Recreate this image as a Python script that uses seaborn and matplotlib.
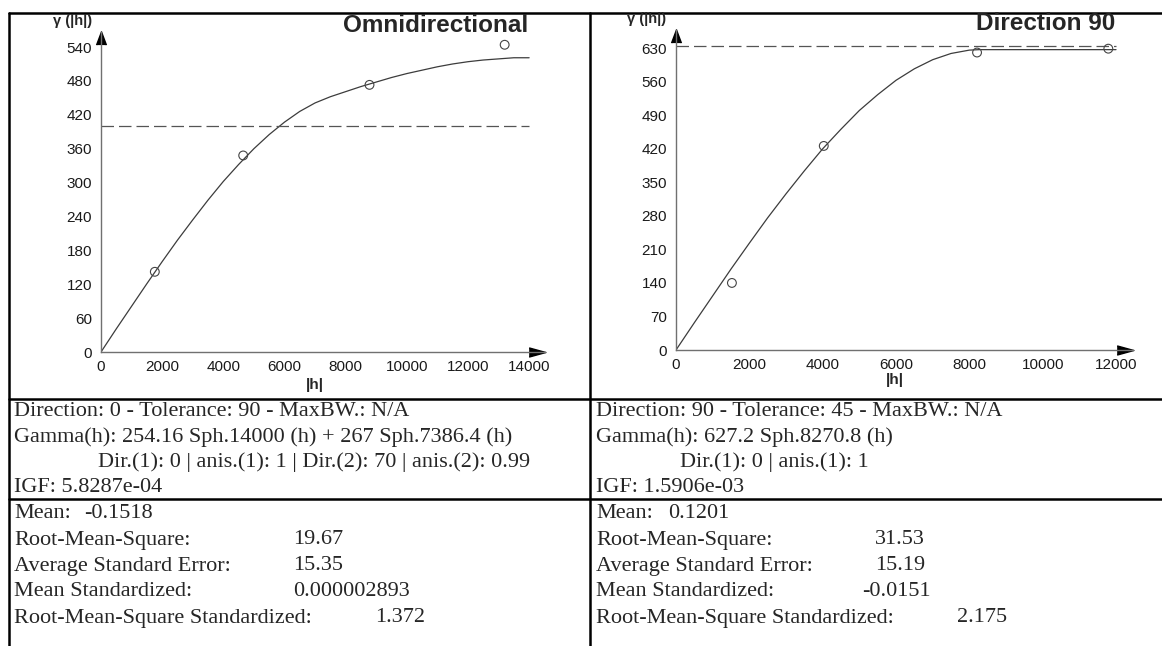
import matplotlib
matplotlib.use("Agg")
import matplotlib.pyplot as plt
from matplotlib.lines import Line2D
from matplotlib.transforms import offset_copy
import seaborn as sns

W, H = 1162, 646

# ---- omnidirectional variogram ----
omni_lag = [1760, 4650, 8780, 13200]
omni_gamma = [142, 348, 473, 544]
omni_model_h = [0, 500, 1000, 1500, 2000, 2500, 3000, 3500, 4000, 4500, 5000, 5500, 6000,
                6500, 7000, 7500, 8000, 8500, 9000, 9500, 10000, 10500, 11000, 11500,
                12000, 12500, 13000, 13500, 14000]
omni_model_g = [0, 41, 81, 121, 160, 198, 234, 269, 302, 332, 360, 385, 407,
                426, 441, 452, 461, 470, 478, 486, 493, 499, 505, 510,
                514, 517, 519, 521, 521]
omni_sill = 400
omni_xticks = [0, 2000, 4000, 6000, 8000, 10000, 12000, 14000]
omni_yticks = [0, 60, 120, 180, 240, 300, 360, 420, 480, 540]

# ---- direction 90 variogram ----
dir90_lag = [1525, 4030, 8210, 11790]
dir90_gamma = [140, 426, 621, 629]
dir90_model_h = [0, 500, 1000, 1500, 2000, 2500, 3000, 3500, 4000, 4500, 5000, 5500,
                 6000, 6500, 7000, 7500, 8000, 8271, 12000]
dir90_model_g = [0, 57, 113, 169, 223, 276, 326, 374, 420, 461, 500, 533,
                 563, 587, 606, 619, 626, 627, 627]
dir90_sill = 635
dir90_xticks = [0, 2000, 4000, 6000, 8000, 10000, 12000]
dir90_yticks = [0, 70, 140, 210, 280, 350, 420, 490, 560, 630]

# ---- text under the plots ----
omni_info = ["Direction: 0 - Tolerance: 90 - MaxBW.: N/A",
             "Gamma(h): 254.16 Sph.14000 (h) + 267 Sph.7386.4 (h)",
             "Dir.(1): 0 | anis.(1): 1 | Dir.(2): 70 | anis.(2): 0.99",
             "IGF: 5.8287e-04"]
dir90_info = ["Direction: 90 - Tolerance: 45 - MaxBW.: N/A",
              "Gamma(h): 627.2 Sph.8270.8 (h)",
              "Dir.(1): 0 | anis.(1): 1",
              "IGF: 1.5906e-03"]
stat_names = ["Mean:", "Root-Mean-Square:", "Average Standard Error:",
              "Mean Standardized:", "Root-Mean-Square Standardized:"]
omni_stats = ["-0.1518", "19.67", "15.35", "0.000002893", "1.372"]
dir90_stats = ["0.1201", "31.53", "15.19", "-0.0151", "2.175"]

sns.set_style("white")
plt.rcParams["font.family"] = ["Liberation Sans", "DejaVu Sans"]

fig = plt.figure(figsize=(W / 100, H / 100), dpi=100)


def px(x, y):
    return x / W, 1 - y / H


def variogram(rect, lag, gam, mh, mg, sill, xt, yt, xmax, ymax, xlab_pos):
    l, t, r, b = rect
    ax = fig.add_axes([l / W, 1 - b / H, (r - l) / W, (b - t) / H])
    sns.lineplot(x=mh, y=mg, ax=ax, color="#3c3c3c", lw=0.9)
    sns.lineplot(x=[0, mh[-1]], y=[sill, sill], ax=ax, color="#555555", lw=0.9,
                 linestyle=(0, (10, 4)))
    sns.scatterplot(x=lag, y=gam, ax=ax, marker="o", s=40, facecolor="none",
                    edgecolor="#444444", linewidth=0.8, zorder=5)
    ax.set_xlim(0, xmax)
    ax.set_ylim(0, ymax)
    ax.set_xticks(xt)
    ax.set_yticks(yt)
    ax.set_xticklabels([str(v) for v in xt])
    ax.set_yticklabels([str(v) for v in yt])
    for s in ["top", "right"]:
        ax.spines[s].set_visible(False)
    for s in ["left", "bottom"]:
        ax.spines[s].set_color("#707070")
        ax.spines[s].set_linewidth(1.0)
    ax.tick_params(direction="in", length=5, width=0.8, color="#808080",
                   labelsize=11, labelcolor="#1a1a1a")
    ax.tick_params(axis="y", pad=6.5)
    ax.tick_params(axis="x", pad=5.5)
    ax.set_xlabel("|h|", fontsize=11, fontweight="bold")
    ax.xaxis.set_label_coords(*xlab_pos)
    ax.set_ylabel("")
    # arrow heads on the axes
    tr = offset_copy(ax.transAxes, fig=fig, x=-8, y=0, units="dots")
    ax.plot([1], [0], transform=tr, marker=[(-1, -0.55), (1, 0), (-1, 0.55)],
            ms=12, color="black", clip_on=False)
    tr = offset_copy(ax.transAxes, fig=fig, x=0, y=-6, units="dots")
    ax.plot([0], [1], transform=tr, marker=[(-0.75, -1), (0, 1), (0.75, -1)],
            ms=9.5, color="black", clip_on=False)
    return ax


variogram((101, 32, 545, 352), omni_lag, omni_gamma, omni_model_h, omni_model_g,
          omni_sill, omni_xticks, omni_yticks, 14519, 566.6, (0.482, -0.08))
variogram((676, 30, 1133, 350), dir90_lag, dir90_gamma, dir90_model_h, dir90_model_g,
          dir90_sill, dir90_xticks, dir90_yticks, 12463, 668, (0.479, -0.072))

# axis names and titles
fig.text(*px(92, 21), "γ (|h|)", ha="right", va="center", fontsize=10.5, fontweight="bold")
fig.text(*px(666, 19), "γ (|h|)", ha="right", va="center", fontsize=10.5, fontweight="bold")
fig.text(*px(528, 25), "Omnidirectional", ha="right", va="center", fontsize=17.5,
         fontweight="bold")
fig.text(*px(1115, 24), "Direction 90", ha="right", va="center", fontsize=17.5,
         fontweight="bold")

# table borders
def hline(y, x0=9, x1=W):
    fig.add_artist(Line2D([x0 / W, x1 / W], [1 - y / H, 1 - y / H], color="black", lw=1.8))


def vline(x, y0=13, y1=H):
    fig.add_artist(Line2D([x / W, x / W], [1 - y0 / H, 1 - y1 / H], color="black", lw=1.8))


hline(13)
hline(399)
hline(499)
vline(9)
vline(590)

# info text
serif = ["Liberation Serif", "DejaVu Serif"]
fs = 16
info_y = [412, 437, 462, 487]
stat_y = [514, 540, 566, 592, 618]
for x0, info in [(14, omni_info), (596, dir90_info)]:
    for i, (y, line) in enumerate(zip(info_y, info)):
        xx = x0 + 84 if i == 2 else x0
        fig.text(*px(xx, y), line, ha="left", va="center", fontsize=fs, family=serif)
for x0, vals, offs in [(14, omni_stats, [70, 279, 279, 279, 361]),
                       (596, dir90_stats, [72, 279, 279, 266, 361])]:
    for name, val, y, off in zip(stat_names, vals, stat_y, offs):
        fig.text(*px(x0, y), name, ha="left", va="center", fontsize=fs, family=serif)
        fig.text(*px(x0 + off, y), val, ha="left", va="center", fontsize=fs, family=serif)

fig.savefig("out.png", dpi=100, facecolor="white")
